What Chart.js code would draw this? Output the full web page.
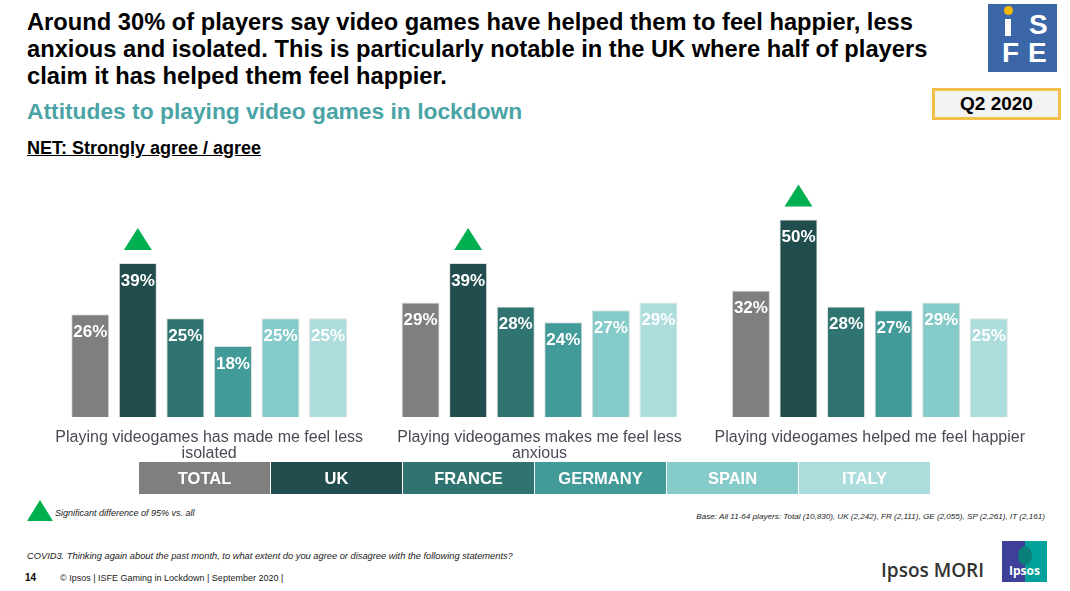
<!DOCTYPE html>
<html>
<head>
<meta charset="utf-8">
<script src="https://cdn.jsdelivr.net/npm/chart.js@4"></script>
<style>
  body { margin: 0; width: 1070px; height: 591px; position: relative; background: #fff; font-family: Arial, "Liberation Sans", sans-serif; overflow: hidden; }
  .abs { position: absolute; }
  #title { left: 27px; top: 9px; font-size: 23.7px; font-weight: bold; line-height: 27px; color: #000; }
  #subtitle { left: 27px; top: 98px; font-size: 22.8px; font-weight: bold; color: #4aa3a5; }
  #net { left: 27px; top: 138px; font-size: 18px; font-weight: bold; text-decoration: underline; color: #000; }
  #q2 { left: 932px; top: 88px; width: 123px; height: 26px; border: 3px solid #f0c04a; background: #f2f2f2; font-size: 19px; font-weight: bold; text-align: center; line-height: 26px; }
  #isfe { left: 988px; top: 4px; width: 69px; height: 68px; background: #3b66a8; }
  #isfe span { position: absolute; color: #fff; font-weight: bold; font-size: 28px; line-height: 28px; }
  #chartBox { left: 0; top: 170px; width: 1070px; height: 305px; }
  #legend { left: 139px; top: 462px; display: flex; }
  #legend div { width: 131px; height: 32px; margin-right: 1px; color: #fff; font-weight: bold; font-size: 16.5px; line-height: 33px; text-align: center; }
  .note { font-size: 9px; font-style: italic; color: #222; }
  #sigTri { left: 27px; top: 500px; width: 0; height: 0; border-left: 13px solid transparent; border-right: 13px solid transparent; border-bottom: 21px solid #00b050; }
  #ipsosMori { left: 881px; top: 557px; font-family: "Open Sans", sans-serif; font-weight: 600; font-size: 19px; color: #333; }
  #ipsosLogo { left: 1002px; top: 541px; width: 45px; height: 41px; background: linear-gradient(90deg, #3d3f98 0 52%, #00a19b 52% 100%); overflow: hidden; }
  #ipsosLogo span { position: absolute; left: 2px; bottom: 3px; width: 41px; text-align: center; color: #fff; font-family: "Open Sans", sans-serif; font-weight: bold; font-size: 12px; }
</style>
</head>
<body>
<div id="title" class="abs">Around 30% of players say video games have helped them to feel happier, less<br>anxious and isolated. This is particularly notable in the UK where half of players<br>claim it has helped them feel happier.</div>
<div id="subtitle" class="abs">Attitudes to playing video games in lockdown</div>
<div id="net" class="abs">NET: Strongly agree / agree</div>
<div id="q2" class="abs">Q2 2020</div>
<div id="isfe" class="abs">
  <div style="position:absolute;left:16px;top:2px;width:9px;height:9px;border-radius:50%;background:#f5b800;"></div>
  <div style="position:absolute;left:17px;top:15px;width:6px;height:17px;background:#fff;"></div>
  <span style="left:41px;top:7px;">S</span>
  <span style="left:14px;top:35px;">F</span>
  <span style="left:40px;top:35px;">E</span>
</div>

<div id="chartBox" class="abs"><canvas id="myChart"></canvas></div>
<div id="legend" class="abs"></div>

<div id="sigTri" class="abs"></div>
<div class="abs note" style="left:55px;top:508px;">Significant difference of 95% vs. all</div>
<div class="abs note" style="right:25px;top:512px;font-size:8.1px;">Base: All 11-64 players: Total (10,830), UK (2,242), FR (2,111), GE (2,055), SP (2,261), IT (2,161)</div>
<div class="abs note" style="left:27px;top:551px;font-size:9.3px;">COVID3. Thinking again about the past month, to what extent do you agree or disagree with the following statements?</div>
<div class="abs" style="left:25px;top:572px;font-size:10px;font-weight:bold;">14</div>
<div class="abs" style="left:60px;top:573px;font-size:9px;color:#222;">© Ipsos | ISFE Gaming in Lockdown | September 2020 |</div>
<div id="ipsosMori" class="abs">Ipsos MORI</div>
<div id="ipsosLogo" class="abs">
  <div style="position:absolute;left:16px;top:5px;width:14px;height:19px;border-radius:50%;background:#0b7f7a;"></div>
  <span>Ipsos</span>
</div>

<script>
const categories = [
  ["Playing videogames has made me feel less", "isolated"],
  ["Playing videogames makes me feel less", "anxious"],
  ["Playing videogames helped me feel happier"]
];
const seriesNames = ["TOTAL", "UK", "FRANCE", "GERMANY", "SPAIN", "ITALY"];
const total = [26, 29, 32];
const uk = [39, 39, 50];
const france = [25, 28, 28];
const germany = [18, 24, 27];
const spain = [25, 27, 29];
const italy = [25, 29, 25];
// significant difference vs. all (green triangle)
const ukSignificant = [true, true, true];

const colors = ["#7f7f7f", "#214d4e", "#307471", "#429a99", "#85cbc9", "#acdcdc"];
const values = [total, uk, france, germany, spain, italy];

// legend boxes
const legend = document.getElementById("legend");
seriesNames.forEach((name, i) => {
  const d = document.createElement("div");
  d.textContent = name;
  d.style.background = colors[i];
  legend.appendChild(d);
});

const labelsPlugin = {
  id: "barLabels",
  afterDatasetsDraw(chart) {
    const ctx = chart.ctx;
    ctx.save();
    ctx.font = "bold 17px Arial, 'Liberation Sans', sans-serif";
    ctx.textAlign = "center";
    ctx.textBaseline = "middle";
    ctx.fillStyle = "#fff";
    chart.data.datasets.forEach((ds, i) => {
      chart.getDatasetMeta(i).data.forEach((bar, j) => {
        ctx.fillText(ds.data[j] + "%", bar.x, bar.y + 18);
        if (ds.significant && ds.significant[j]) {
          ctx.fillStyle = "#00b050";
          ctx.beginPath();
          ctx.moveTo(bar.x - 14, bar.y - 13);
          ctx.lineTo(bar.x + 14, bar.y - 13);
          ctx.lineTo(bar.x, bar.y - 35);
          ctx.closePath();
          ctx.fill();
          ctx.fillStyle = "#fff";
        }
      });
    });
    ctx.restore();
  }
};

const ctx = document.getElementById("myChart").getContext("2d");
const myChart = new Chart(ctx, {
  type: "bar",
  data: {
    labels: categories,
    datasets: seriesNames.map((name, i) => ({
      label: name,
      data: values[i],
      backgroundColor: colors[i],
      borderColor: "rgba(210, 210, 210, 0.7)",
      borderWidth: 1,
      significant: name === "UK" ? ukSignificant : null,
      categoryPercentage: 0.864,
      barPercentage: 0.8,
    })),
  },
  options: {
    responsive: true,
    maintainAspectRatio: false,
    animation: false,
    layout: { padding: { left: 44, right: 35, top: 10, bottom: 0 } },
    plugins: { legend: { display: false }, tooltip: { enabled: false } },
    scales: {
      x: {
        grid: { display: false, drawTicks: false },
        border: { display: false },
        ticks: {
          color: "#4a4a55",
          font: { family: "Arial, 'Liberation Sans', sans-serif", size: 16, lineHeight: 1.0 },
          padding: 13,
          maxRotation: 0,
        },
      },
      y: {
        display: false,
        beginAtZero: true,
        max: 60,
      },
    },
  },
  plugins: [labelsPlugin],
});
</script>
</body>
</html>
